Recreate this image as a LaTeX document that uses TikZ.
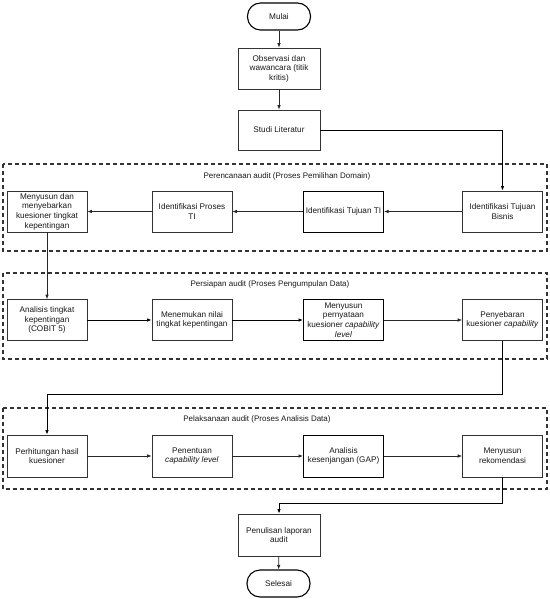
\documentclass[tikz,border=0pt]{standalone}
\usepackage{fontspec}
\setmainfont{Liberation Sans}
\usetikzlibrary{arrows.meta}
\begin{document}
\begin{tikzpicture}[x=1pt,y=-1pt,
  every node/.style={font=\fontsize{8.2}{9.6}\selectfont, text=black!90},
  stepbox/.style={draw=black!80, line width=0.7pt, fill=white, minimum width=80pt, minimum height=41pt, align=center, inner sep=1pt},
  boldbox/.style={stepbox, draw=black, line width=1pt},
  term/.style={draw=black, line width=1.1pt, fill=white, rounded corners=13pt, minimum width=63pt, minimum height=27pt, inner sep=1pt},
  group/.style={draw=black!80, line width=1.1pt, dash pattern=on 4pt off 3pt},
  grouptitle/.style={font=\fontsize{8}{9.6}\selectfont},
  conn/.style={draw=black!85, line width=0.7pt, -{Latex[length=4.5pt,width=3.5pt]}},
  connb/.style={conn, draw=black, line width=1pt}
]
\useasboundingbox (0,0) rectangle (549,599);

% groups
\draw[group] (3,164) rectangle (547,251);
\draw[group] (3,273) rectangle (547,359);
\draw[group] (3,408) rectangle (547,489);
\node[grouptitle] (t1) at (287,176) {Perencanaan audit (Proses Pemilihan Domain)};
\node[grouptitle] (t2) at (270,284) {Persiapan audit (Proses Pengumpulan Data)};
\node[grouptitle] (t3) at (257,419) {Pelaksanaan audit (Proses Analisis Data)};

% top column
\node[term] (mulai) at (279,16.5) {Mulai};
\node[stepbox, minimum width=82pt] (obs) at (279,68.5) {Observasi dan\\wawancara (titik\\kritis)};
\node[stepbox, minimum width=82pt, minimum height=40pt] (studi) at (279,130) {Studi Literatur};

% row 1
\node[stepbox] (r1a) at (47,211.5) {Menyusun dan\\menyebarkan\\kuesioner tingkat\\kepentingan};
\node[stepbox] (r1b) at (192,211.5) {Identifikasi Proses\\TI};
\node[boldbox] (r1c) at (343.5,211.5) {Identifikasi Tujuan TI};
\node[stepbox] (r1d) at (502.5,211.5) {Identifikasi Tujuan\\Bisnis};

% row 2
\node[stepbox] (r2a) at (47,320) {Analisis tingkat\\kepentingan\\(COBIT 5)};
\node[stepbox] (r2b) at (192,320) {Menemukan nilai\\tingkat kepentingan};
\node[boldbox] (r2c) at (343.5,320) {Menyusun\\pernyataan\\kuesioner \textit{capability}\\\textit{level}};
\node[stepbox] (r2d) at (502.5,320) {Penyebaran\\kuesioner \textit{capability}};

% row 3
\node[stepbox, minimum height=42pt] (r3a) at (47,456) {Perhitungan hasil\\kuesioner};
\node[stepbox, minimum height=42pt] (r3b) at (192,456) {Penentuan\\\textit{capability level}};
\node[boldbox, minimum height=42pt] (r3c) at (343.5,456) {Analisis\\kesenjangan (GAP)};
\node[stepbox, minimum height=42pt] (r3d) at (502.5,456) {Menyusun\\rekomendasi};

% bottom
\node[stepbox, minimum width=82pt, minimum height=42pt] (lap) at (279,535) {Penulisan laporan\\audit};
\node[term] (selesai) at (278.5,583.5) {Selesai};

% connectors
\draw[conn] (mulai) -- (obs);
\draw[conn] (obs) -- (studi);
\draw[connb] (studi.east) -| (r1d.north);
\draw[conn] (r1d) -- (r1c);
\draw[conn] (r1c) -- (r1b);
\draw[conn] (r1b) -- (r1a);
\draw[conn] (r1a) -- (r2a);
\draw[connb] (r2a) -- (r2b);
\draw[connb] (r2b) -- (r2c);
\draw[conn] (r2c) -- (r2d);
\coordinate (b1) at (502.5,394);
\coordinate (b2) at (47,394);
\draw[connb] (r2d.south) -- (b1) -- (b2) -- (r3a.north);
\draw[conn] (r3a) -- (r3b);
\draw[conn] (r3b) -- (r3c);
\draw[conn] (r3c) -- (r3d);
\coordinate (c1) at (502.5,503);
\coordinate (c2) at (279,503);
\draw[connb] (r3d.south) -- (c1) -- (c2) -- (lap.north);
\draw[conn] (lap) -- (selesai);
\end{tikzpicture}
\end{document}
